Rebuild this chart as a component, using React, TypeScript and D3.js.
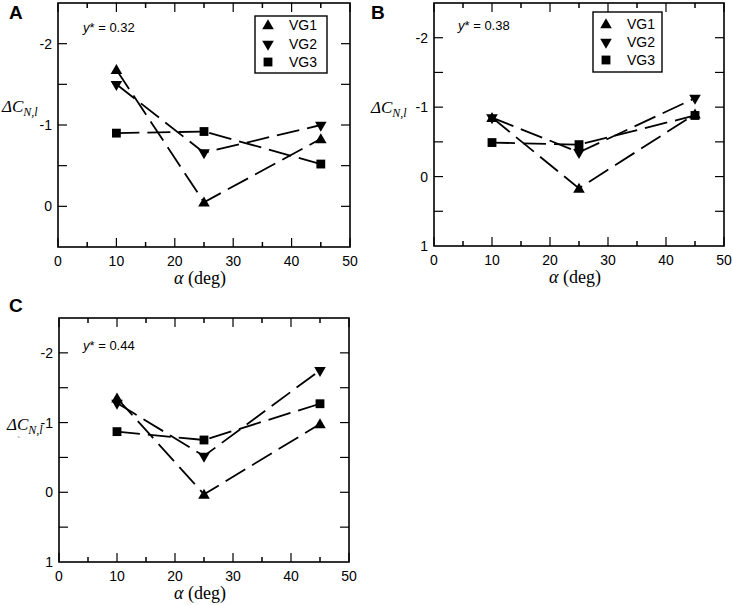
import React from "react";
import * as d3 from "d3";

const alpha = [10, 25, 45];

const A_VG1 = [-1.68, -0.05, -0.83];
const A_VG2 = [-1.5, -0.66, -1.0];
const A_VG3 = [-0.9, -0.92, -0.52];

const B_VG1 = [-0.85, 0.17, -0.9];
const B_VG2 = [-0.85, -0.35, -1.13];
const B_VG3 = [-0.49, -0.46, -0.88];

const C_VG1 = [-1.35, 0.03, -0.98];
const C_VG2 = [-1.28, -0.52, -1.75];
const C_VG3 = [-0.87, -0.75, -1.27];

const seriesNames = ["VG1", "VG2", "VG3"];
const xTicksMajor = [0, 10, 20, 30, 40, 50];
const xTicksMinor = [5, 15, 25, 35, 45];

type Panel = {
  letter: string;
  ystar: string;
  series: number[][];
  left: number;
  top: number;
  width: number;
  height: number;
  yDomain: [number, number];
  yTicks: number[];
  yLabeled: number[];
  legend: { x: number; y: number; w: number; h: number; rows: number[] } | null;
  letterPos: [number, number];
  ylabelPos: [number, number];
  ystarPos: [number, number];
  stray: boolean;
};

const panels: Panel[] = [
  {
    letter: "A",
    ystar: "0.32",
    series: [A_VG1, A_VG2, A_VG3],
    left: 58, top: 3, width: 292, height: 244,
    yDomain: [-2.5, 0.5],
    yTicks: [-2, -1.5, -1, -0.5, 0],
    yLabeled: [-2, -1, 0],
    legend: { x: 255, y: 16, w: 72, h: 57, rows: [25, 44, 62] },
    letterPos: [9, 19],
    ylabelPos: [2, 112],
    ystarPos: [83, 32],
    stray: false,
  },
  {
    letter: "B",
    ystar: "0.38",
    series: [B_VG1, B_VG2, B_VG3],
    left: 434, top: 3, width: 290, height: 243,
    yDomain: [-2.5, 1],
    yTicks: [-2, -1.5, -1, -0.5, 0, 0.5],
    yLabeled: [-2, -1, 0, 1],
    legend: { x: 593, y: 12, w: 69, h: 60, rows: [24, 42, 60] },
    letterPos: [371, 19],
    ylabelPos: [371, 113],
    ystarPos: [458, 30],
    stray: false,
  },
  {
    letter: "C",
    ystar: "0.44",
    series: [C_VG1, C_VG2, C_VG3],
    left: 59, top: 318, width: 290, height: 244,
    yDomain: [-2.5, 1],
    yTicks: [-2, -1.5, -1, -0.5, 0, 0.5],
    yLabeled: [-2, -1, 0, 1],
    legend: null,
    letterPos: [9, 312],
    ylabelPos: [7, 430],
    ystarPos: [83, 350],
    stray: true,
  },
];

const sans = "'Liberation Sans', Arial, sans-serif";
const serif = "'Liberation Serif', 'Times New Roman', serif";

const symbolFor = (i: number) => {
  if (i === 2) return d3.symbol().type(d3.symbolSquare).size(78)() as string;
  return d3.symbol().type(d3.symbolTriangle).size(58)() as string;
};

const Marker = ({ i, x, y }: { i: number; x: number; y: number }) => (
  <path
    d={symbolFor(i)}
    transform={`translate(${x},${y})${i === 1 ? " rotate(180)" : ""}${i === 0 ? " translate(0,1)" : ""}`}
    fill="#000"
  />
);

const PanelView = ({ p }: { p: Panel }) => {
  const x = d3.scaleLinear().domain([0, 50]).range([p.left, p.left + p.width]);
  const y = d3.scaleLinear().domain(p.yDomain).range([p.top, p.top + p.height]);
  const line = d3
    .line<number>()
    .x((_, i) => x(alpha[i]))
    .y((v) => y(v));
  const right = p.left + p.width;
  const bottom = p.top + p.height;
  return (
    <g>
      <text x={p.letterPos[0]} y={p.letterPos[1]} fontFamily={sans} fontWeight="bold" fontSize={19}>
        {p.letter}
      </text>
      <rect x={p.left} y={p.top} width={p.width} height={p.height} fill="none" stroke="#000" strokeWidth={1.6} />
      {xTicksMajor.map((t) => (
        <g key={"xm" + t}>
          <line x1={x(t)} x2={x(t)} y1={bottom} y2={bottom - 9} stroke="#000" strokeWidth={1.2} />
          <line x1={x(t)} x2={x(t)} y1={p.top} y2={p.top + 9} stroke="#000" strokeWidth={1.2} />
          <text x={x(t)} y={bottom + 19} textAnchor="middle" fontFamily={sans} fontSize={14}>
            {t}
          </text>
        </g>
      ))}
      {xTicksMinor.map((t) => (
        <g key={"xn" + t}>
          <line x1={x(t)} x2={x(t)} y1={bottom} y2={bottom - 5} stroke="#000" strokeWidth={1.5} />
          <line x1={x(t)} x2={x(t)} y1={p.top} y2={p.top + 5} stroke="#000" strokeWidth={1.5} />
        </g>
      ))}
      {p.yTicks.map((t) => (
        <g key={"y" + t}>
          <line x1={p.left} x2={p.left + 9} y1={y(t)} y2={y(t)} stroke="#000" strokeWidth={1.2} />
          <line x1={right} x2={right - 9} y1={y(t)} y2={y(t)} stroke="#000" strokeWidth={1.2} />
        </g>
      ))}
      {p.yLabeled.map((t) => (
        <text key={"yl" + t} x={p.left - 6} y={y(t) + 5} textAnchor="end" fontFamily={sans} fontSize={14}>
          {t === 0 ? "0" : String(t)}
        </text>
      ))}
      <text x={x(25) - 4} y={bottom + 37} textAnchor="middle" fontFamily={serif} fontSize={18}>
        <tspan fontStyle="italic">α</tspan>
        <tspan> (deg)</tspan>
      </text>
      <text x={p.ylabelPos[0]} y={p.ylabelPos[1]} fontFamily={serif} fontStyle="italic" fontSize={17}>
        ΔC
        <tspan fontSize={12} dy={4}>
          N,l
        </tspan>
      </text>
      {p.stray && (
        <text x={p.ylabelPos[0] + 10} y={p.ylabelPos[1] + 14} fontFamily={serif} fontSize={10} fill="#666">
          `
        </text>
      )}
      <text x={p.ystarPos[0]} y={p.ystarPos[1]} fontFamily={sans} fontSize={13}>
        <tspan fontStyle="italic">y</tspan>
        <tspan>* = {p.ystar}</tspan>
      </text>
      {p.series.map((s, i) => (
        <path
          key={"l" + i}
          d={line(s) as string}
          fill="none"
          stroke="#000"
          strokeWidth={1.8}
          strokeDasharray="23,8"
        />
      ))}
      {p.series.map((s, i) =>
        s.map((v, j) => <Marker key={`m${i}-${j}`} i={i} x={x(alpha[j])} y={y(v)} />)
      )}
      {p.legend && (
        <g>
          <rect
            x={p.legend.x}
            y={p.legend.y}
            width={p.legend.w}
            height={p.legend.h}
            fill="#fff"
            stroke="#000"
            strokeWidth={1.4}
          />
          {seriesNames.map((n, i) => (
            <g key={n}>
              <Marker i={i} x={p.legend!.x + 13} y={p.legend!.rows[i]} />
              <text x={p.legend!.x + 34} y={p.legend!.rows[i] + 5} fontFamily={sans} fontSize={14}>
                {n}
              </text>
            </g>
          ))}
        </g>
      )}
    </g>
  );
};

export default function App() {
  return (
    <svg
      width={733}
      height={605}
      style={{ position: "absolute", left: 0, top: 0, background: "#fff" }}
    >
      <rect width={733} height={605} fill="#fff" />
      {panels.map((p) => (
        <PanelView key={p.letter} p={p} />
      ))}
    </svg>
  );
}
